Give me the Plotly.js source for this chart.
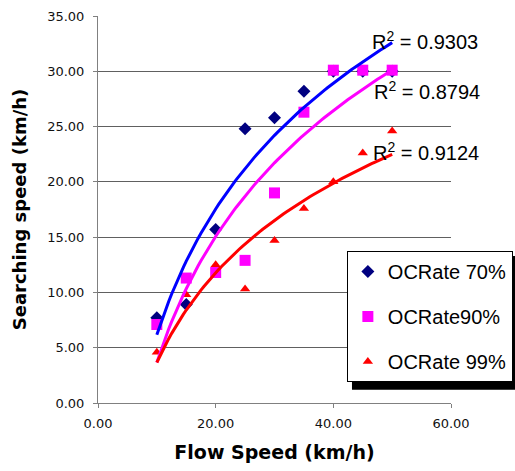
<!DOCTYPE html>
<html>
<head>
<meta charset="utf-8">
<script src="https://cdn.plot.ly/plotly-3.0.1.min.js"></script>
<style>html,body{margin:0;padding:0;background:#fff;}</style>
</head>
<body>
<div id="chart" style="width:515px;height:471px;"></div>
<script>
// Flow speed (km/h) — x values shared by all series
const flowSpeed = [10, 15, 20, 25, 30, 35, 40, 45, 50];
// Searching speed (km/h) per occupancy rate
const oc70 = [7.7, 8.9, 15.7, 24.8, 25.8, 28.2, 30.0, 30.0, 30.0];
const oc90 = [7.1, 11.3, 11.8, 12.9, 19.0, 26.3, 30.1, 30.1, 30.1];
const oc99 = [4.6, 9.8, 12.5, 10.3, 14.7, 17.6, 20.0, 22.6, 24.6];
const seriesNames = ['OCRate 70%', 'OCRate90%', 'OCRate 99%'];
const r2Labels = ['R<sup>2</sup> = 0.9303', 'R<sup>2</sup> = 0.8794', 'R<sup>2</sup> = 0.9124'];
const xTicks = [0, 20, 40, 60];
const yTicks = [0, 5, 10, 15, 20, 25, 30, 35];

// Logarithmic trendline (least squares on ln x), as in the spreadsheet chart
function logFit(xs, ys) {
  const lx = xs.map(Math.log);
  const n = xs.length;
  const mx = lx.reduce((a, b) => a + b, 0) / n;
  const my = ys.reduce((a, b) => a + b, 0) / n;
  let sxy = 0, sxx = 0;
  for (let i = 0; i < n; i++) { sxy += (lx[i] - mx) * (ys[i] - my); sxx += (lx[i] - mx) ** 2; }
  const a = sxy / sxx, b = my - a * mx;
  const x0 = Math.min(...xs), x1 = Math.max(...xs);
  const tx = [], ty = [];
  for (let i = 0; i <= 80; i++) { const x = x0 + (x1 - x0) * i / 80; tx.push(x); ty.push(a * Math.log(x) + b); }
  return {tx, ty};
}

const markerStyles = [
  {symbol: 'diamond', size: 10, color: '#000080'},
  {symbol: 'square', size: 11, color: '#FF00FF'},
  {symbol: 'triangle-up', size: 9, color: '#FF0000'}
];
const lineColors = ['#0000FF', '#FF00FF', '#FF0000'];
const allY = [oc70, oc90, oc99];

const traces = [];
allY.forEach((ys, i) => {
  traces.push({
    x: flowSpeed, y: ys, type: 'scatter', mode: 'markers', name: seriesNames[i],
    legendgroup: 'g' + i, marker: markerStyles[i], cliponaxis: false
  });
});
allY.forEach((ys, i) => {
  const f = logFit(flowSpeed, ys);
  traces.push({
    x: f.tx, y: f.ty, type: 'scatter', mode: 'lines', showlegend: false,
    line: {color: lineColors[i], width: 3}, hoverinfo: 'skip'
  });
});

const annPos = [[55.5, 32.8], [56.0, 28.3], [55.8, 22.75]];
const annotations = r2Labels.map((t, i) => ({
  text: t, x: annPos[i][0], y: annPos[i][1], xref: 'x', yref: 'y', showarrow: false,
  font: {family: 'Liberation Sans, Arial, sans-serif', size: 20, color: '#000'}
}));

const tickFont = {family: 'DejaVu Sans, Verdana, sans-serif', size: 13, color: '#111'};
const layout = {
  width: 515, height: 471,
  margin: {l: 98, r: 64, t: 16, b: 68, autoexpand: false},
  paper_bgcolor: '#fff', plot_bgcolor: '#fff',
  showlegend: true,
  xaxis: {
    range: [0, 60], tickvals: xTicks, tickformat: '.2f', showgrid: false, zeroline: false,
    showline: true, linecolor: '#808080', linewidth: 1, ticks: 'outside', ticklen: 4, tickcolor: '#808080',
    tickfont: tickFont, ticklabelstandoff: 4, automargin: false,
    title: {text: 'Flow Speed (km/h)', standoff: 16, font: {family: 'DejaVu Sans, Verdana, sans-serif', size: 19, weight: 'bold', color: '#000'}}
  },
  yaxis: {
    range: [0, 35], tickvals: yTicks, tickformat: '.2f', showgrid: true, gridcolor: '#606060', gridwidth: 1,
    zeroline: false, showline: true, linecolor: '#808080', linewidth: 1, ticks: 'outside', ticklen: 4, tickcolor: '#808080',
    tickfont: tickFont, ticklabelstandoff: 6, automargin: false,
    title: {text: 'Searching speed (km/h)', standoff: 15, font: {family: 'DejaVu Sans, Verdana, sans-serif', size: 18, weight: 'bold', color: '#000'}}
  },
  legend: {
    x: 0.705, y: 0.393, xanchor: 'left', yanchor: 'top',
    bgcolor: '#fff', bordercolor: '#000', borderwidth: 1,
    font: {family: 'Liberation Sans, Arial, sans-serif', size: 20, color: '#000'},
    tracegroupgap: 16
  },
  shapes: [{
    type: 'rect', xref: 'paper', yref: 'paper', layer: 'above',
    x0: 0.7195, x1: 1.3, y0: 0.034, y1: 0.38,
    fillcolor: '#000', line: {width: 0}
  }],
  annotations: annotations
};

Plotly.newPlot('chart', traces, layout, {displayModeBar: false, staticPlot: true});
</script>
</body>
</html>
